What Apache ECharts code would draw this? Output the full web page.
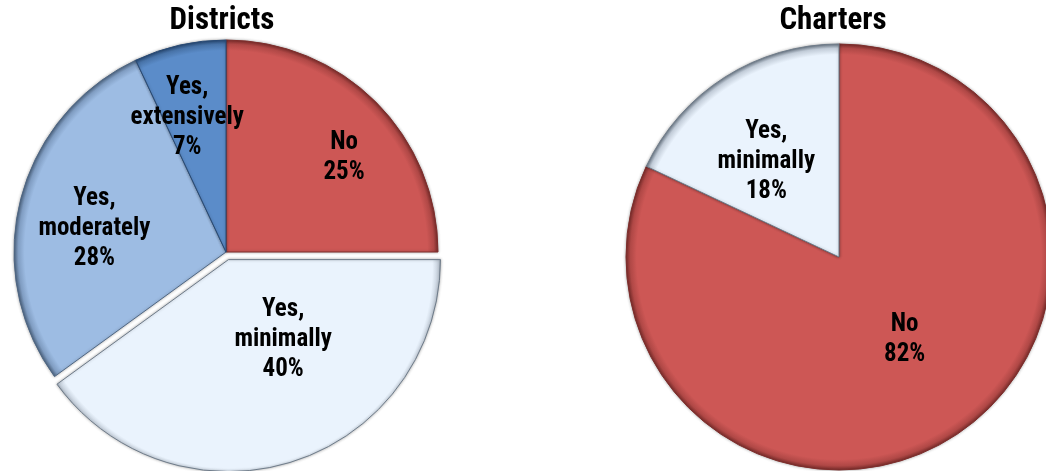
<!DOCTYPE html>
<html>
<head>
<meta charset="utf-8">
<script src="https://cdn.jsdelivr.net/npm/echarts@6/dist/echarts.min.js"></script>
<style>
html,body{margin:0;padding:0;background:#fff;}
#chart{width:1046px;height:471px;}
</style>
</head>
<body>
<div id="chart"></div>
<script>
// ---- data ----
const districtTitle = 'Districts';
const districtNames = ['No', 'Yes, minimally', 'Yes, moderately', 'Yes, extensively'];
const districtValues = [25, 40, 28, 7];
const charterTitle = 'Charters';
const charterNames = ['No', 'Yes, minimally'];
const charterValues = [82, 18];

// ---- styles ----
const sliceColors = {
  'No': ['#CD5755', '#B04846', '#7E2E2C'],
  'Yes, minimally': ['#EAF3FD', '#C2CCD8', '#6F7C8A'],
  'Yes, moderately': ['#9DBCE3', '#809DC2', '#4F6784'],
  'Yes, extensively': ['#5B8CC9', '#4873A8', '#284A75']
};
const FONT = "'Roboto Condensed','Open Sans Condensed','Liberation Sans',Arial,sans-serif";
const districtLayout = { cx: 226, cy: 252, r: 212, explode: { 'Yes, minimally': 8 } };
const charterLayout = { cx: 839, cy: 257, r: 213, explode: {} };
const districtLabelOffsets = { 'No': [41, -17], 'Yes, minimally': [21, -24], 'Yes, moderately': [-26, 4], 'Yes, extensively': [-15, -28] };
const charterLabelOffsets = { 'No': [7, -10], 'Yes, minimally': [-14, -3] };

function gradient(cx, cy, r, c) {
  return {
    type: 'radial', x: cx, y: cy, r: r, global: true,
    colorStops: [
      { offset: 0, color: c[0] },
      { offset: 0.95, color: c[0] },
      { offset: 0.98, color: c[1] },
      { offset: 1, color: c[2] }
    ]
  };
}

function buildData(names, values, layout, offsets) {
  const total = values.reduce((a, b) => a + b, 0);
  let acc = 0;
  return names.map((n, i) => {
    const mid = (acc + values[i] / 2) / total * Math.PI * 2;
    acc += values[i];
    const ex = layout.explode[n] || 0;
    const gx = layout.cx + ex * Math.sin(mid);
    const gy = layout.cy - ex * Math.cos(mid);
    const c = sliceColors[n];
    const style = { color: gradient(gx, gy, layout.r, c), borderColor: c[2], borderWidth: 1 };
    return {
      name: n,
      value: values[i],
      selected: ex > 0,
      itemStyle: style,
      select: { itemStyle: style, label: { offset: offsets[n] } },
      label: { offset: offsets[n] }
    };
  });
}

function pieSeries(name, names, values, layout, offsets) {
  return {
    name: name,
    type: 'pie',
    center: [layout.cx, layout.cy],
    radius: layout.r,
    startAngle: 90,
    clockwise: true,
    selectedMode: 'multiple',
    selectedOffset: 8,
    avoidLabelOverlap: false,
    animation: false,
    emphasis: { disabled: true },
    itemStyle: { shadowBlur: 3, shadowColor: 'rgba(0,0,0,0.3)' },
    label: {
      show: true,
      position: 'inside',
      color: '#000',
      fontFamily: FONT,
      fontWeight: 'bold',
      fontSize: 25,
      lineHeight: 30,
      align: 'center',
      formatter: p => p.name.replace(', ', ',\n') + '\n' + p.value + '%'
    },
    labelLine: { show: false },
    data: buildData(names, values, layout, offsets)
  };
}

const chart = echarts.init(document.getElementById('chart'));
chart.setOption({
  backgroundColor: '#fff',
  title: [
    { text: districtTitle, left: 217, top: 1, textAlign: 'center',
      textStyle: { fontFamily: FONT, fontWeight: 'bold', fontSize: 31, color: '#000' } },
    { text: charterTitle, left: 828, top: 1, textAlign: 'center',
      textStyle: { fontFamily: FONT, fontWeight: 'bold', fontSize: 31, color: '#000' } }
  ],
  tooltip: { show: false },
  series: [
    pieSeries(districtTitle, districtNames, districtValues, districtLayout, districtLabelOffsets),
    pieSeries(charterTitle, charterNames, charterValues, charterLayout, charterLabelOffsets)
  ]
});
</script>
</body>
</html>
